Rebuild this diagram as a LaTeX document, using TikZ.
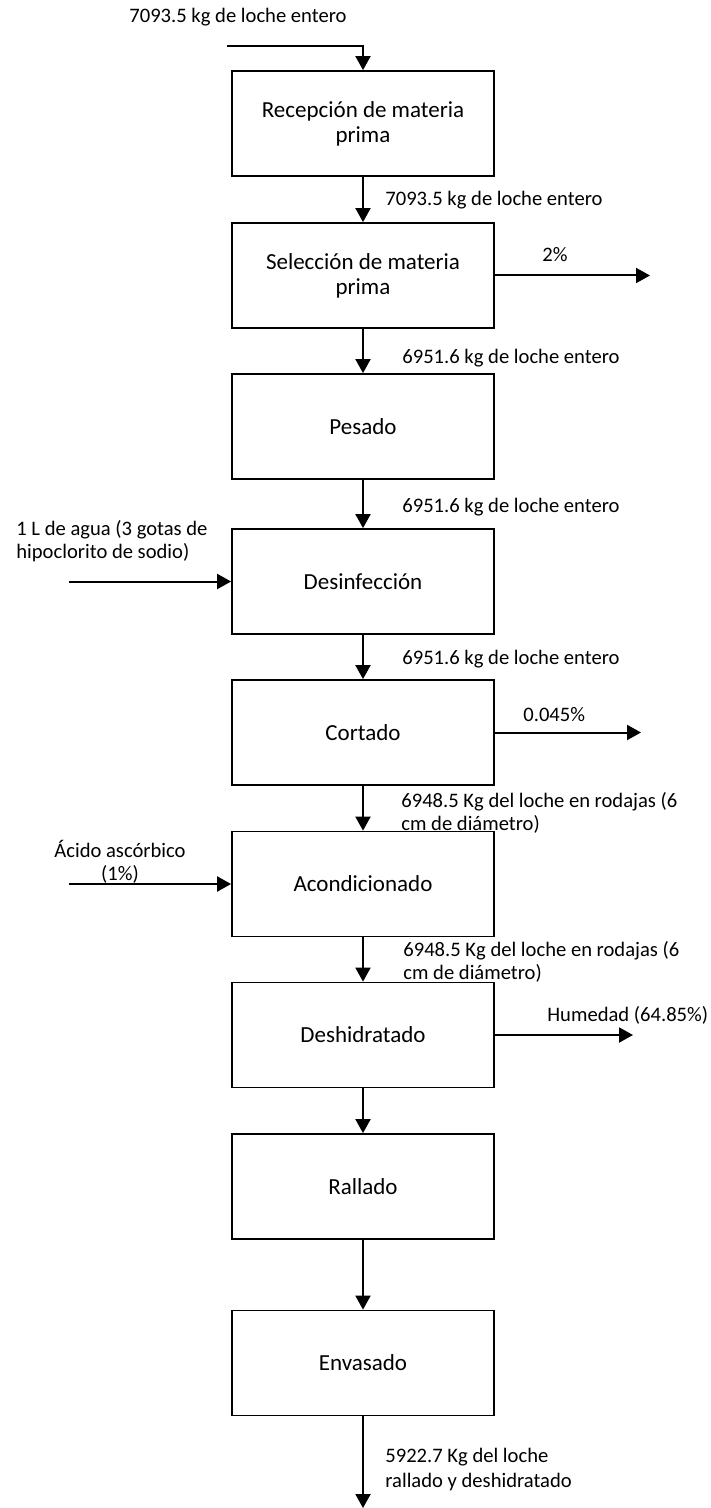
\documentclass[tikz,border=0pt]{standalone}
\usepackage{fontspec}
\setmainfont{Carlito}
\usetikzlibrary{arrows.meta}
\begin{document}
\begin{tikzpicture}[x=0.5pt,y=-0.5pt,
  proc/.style={draw, line width=0.9pt, minimum width=131pt, minimum height=52.5pt,
    inner sep=2pt, align=center, font=\fontsize{11.5}{12.5}\selectfont},
  flow/.style={line width=1pt, -{Triangle[length=7pt,width=7.5pt]}},
  lbl/.style={inner sep=0pt, anchor=base west, align=left,
    font=\fontsize{10.3}{11.5}\selectfont}]
\useasboundingbox (0,0) rectangle (711,1508);

% process steps
\node[proc] (b1) at (363,123.5) {Recepción de materia\\prima};
\node[proc] (b2) at (363,275.5) {Selección de materia\\prima};
\node[proc] (b3) at (363,426.5) {Pesado};
\node[proc] (b4) at (363,581.5) {Desinfección};
\node[proc] (b5) at (363,732.5) {Cortado};
\node[proc] (b6) at (363,884)   {Acondicionado};
\node[proc] (b7) at (363,1035)  {Deshidratado};
\node[proc] (b8) at (363,1186.5) {Rallado};
\node[proc] (b9) at (363,1363)  {Envasado};

% stream labels (multi-line ones are anchored on their last baseline)
\node[lbl] (t0) at (129,23)  {7093.5 kg de loche entero};
\node[lbl] (t1) at (385,206) {7093.5 kg de loche entero};
\node[lbl] (t2) at (402,364) {6951.6 kg de loche entero};
\node[lbl] (t3) at (402,512) {6951.6 kg de loche entero};
\node[lbl] (t4) at (402,664) {6951.6 kg de loche entero};
\node[lbl] (t5) at (401,830) {6948.5 Kg del loche en rodajas (6\\cm de diámetro)};
\node[lbl] (t6) at (403,979) {6948.5 Kg del loche en rodajas (6\\cm de diámetro)};
\node[lbl, font=\fontsize{10.3}{12.5}\selectfont] (t7) at (385,1487) {5922.7 Kg del loche\\rallado y deshidratado};
\node[lbl] (s2) at (542,262)  {2\%};
\node[lbl] (s5) at (523,721)  {0.045\%};
\node[lbl] (s7) at (547,1021) {Humedad (64.85\%)};
\node[lbl] (a4) at (16,558)   {1 L de agua (3 gotas de\\hipoclorito de sodio)};
\node[lbl, anchor=base, align=center] (a6) at (120,880) {Ácido ascórbico\\(1\%)};

% free ends of the streams
\coordinate (src) at (227,46);
\coordinate (i4) at (69,581.5);
\coordinate (i6) at (69,884);
\coordinate (o2) at (650,275.5);
\coordinate (o5) at (641,732.5);
\coordinate (o7) at (633,1035);
\coordinate (out) at (363,1508);

% main flow
\draw[flow] (src) -| (b1.north);
\draw[flow] (b1.south) -- (b2.north);
\draw[flow] (b2.south) -- (b3.north);
\draw[flow] (b3.south) -- (b4.north);
\draw[flow] (b4.south) -- (b5.north);
\draw[flow] (b5.south) -- (b6.north);
\draw[flow] (b6.south) -- (b7.north);
\draw[flow] (b7.south) -- (b8.north);
\draw[flow] (b8.south) -- (b9.north);
\draw[flow] (b9.south) -- (out);

% side inputs and outputs
\draw[flow] (i4) -- (b4.west);
\draw[flow] (i6) -- (b6.west);
\draw[flow] (b2.east) -- (o2);
\draw[flow] (b5.east) -- (o5);
\draw[flow] (b7.east) -- (o7);
\end{tikzpicture}
\end{document}
